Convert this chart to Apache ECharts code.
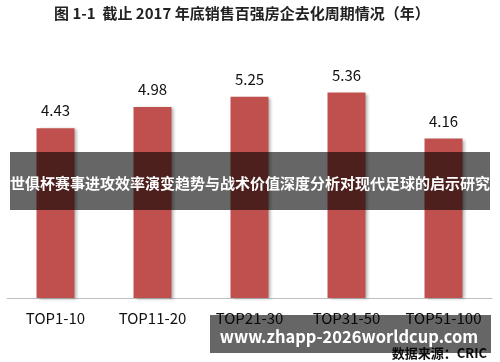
<!DOCTYPE html>
<html>
<head>
<meta charset="utf-8">
<script src="https://cdn.jsdelivr.net/npm/echarts@6/dist/echarts.min.js"></script>
<style>html,body{margin:0;padding:0;background:#fff}#c{width:500px;height:362px}</style>
</head>
<body>
<div id="c"></div>
<script>
const categories = ['TOP1-10', 'TOP11-20', 'TOP21-30', 'TOP31-50', 'TOP51-100'];
const values = [4.43, 4.98, 5.25, 5.36, 4.16];
const titleText = '图 1-1  截止 2017 年底销售百强房企去化周期情况（年）';
const bannerText = '世俱杯赛事进攻效率演变趋势与战术价值深度分析对现代足球的启示研究';
const urlText = 'www.zhapp-2026worldcup.com';
const sourceText = '数据来源：CRIC';

const chart = echarts.init(document.getElementById('c'), null, {renderer: 'canvas'});
const font = '"Noto Sans CJK SC", "Open Sans", sans-serif';
chart.setOption({
  animation: false,
  title: {
    text: titleText, left: 49, top: 1,
    textStyle: {fontSize: 15, fontWeight: 'bold', color: '#222', fontFamily: font}
  },
  grid: {left: 7, right: 8, top: 68, bottom: 64},
  xAxis: {
    type: 'category', data: categories,
    axisLine: {lineStyle: {color: '#bfbfbf'}},
    axisTick: {length: 4, lineStyle: {color: '#bfbfbf'}},
    axisLabel: {interval: 0, hideOverlap: false, fontSize: 15, color: '#111', margin: 13, fontFamily: font}
  },
  yAxis: {type: 'value', min: 0, max: 6, show: false, splitLine: {show: false}},
  series: [{
    type: 'bar', data: values, barWidth: 38,
    itemStyle: {color: '#C0504D', shadowBlur: 3, shadowColor: 'rgba(0,0,0,0.3)', shadowOffsetX: 2, shadowOffsetY: 1},
    label: {show: true, position: 'top', distance: 10, fontSize: 15, color: '#111', fontFamily: font}
  }],
  graphic: [
    {type: 'rect', shape: {x: 10, y: 152, width: 480, height: 58}, style: {fill: 'rgba(0,0,0,0.6)'}, z: 100},
    {type: 'text', x: 250, y: 183, style: {text: bannerText, fill: '#fff', font: 'bold 15px ' + font, textAlign: 'center', textVerticalAlign: 'middle'}, z: 101},
    {type: 'rect', shape: {x: 210, y: 315, width: 281, height: 38}, style: {fill: 'rgba(0,0,0,0.6)'}, z: 100},
    {type: 'text', x: 349, y: 337, style: {text: urlText, fill: '#fff', font: 'bold 16.5px ' + font, textAlign: 'center', textVerticalAlign: 'middle'}, z: 101},
    {type: 'text', x: 487, y: 353, style: {text: sourceText, fill: '#111', font: 'bold 13px ' + font, textAlign: 'right', textVerticalAlign: 'middle'}, z: 99}
  ]
});
</script>
</body>
</html>
